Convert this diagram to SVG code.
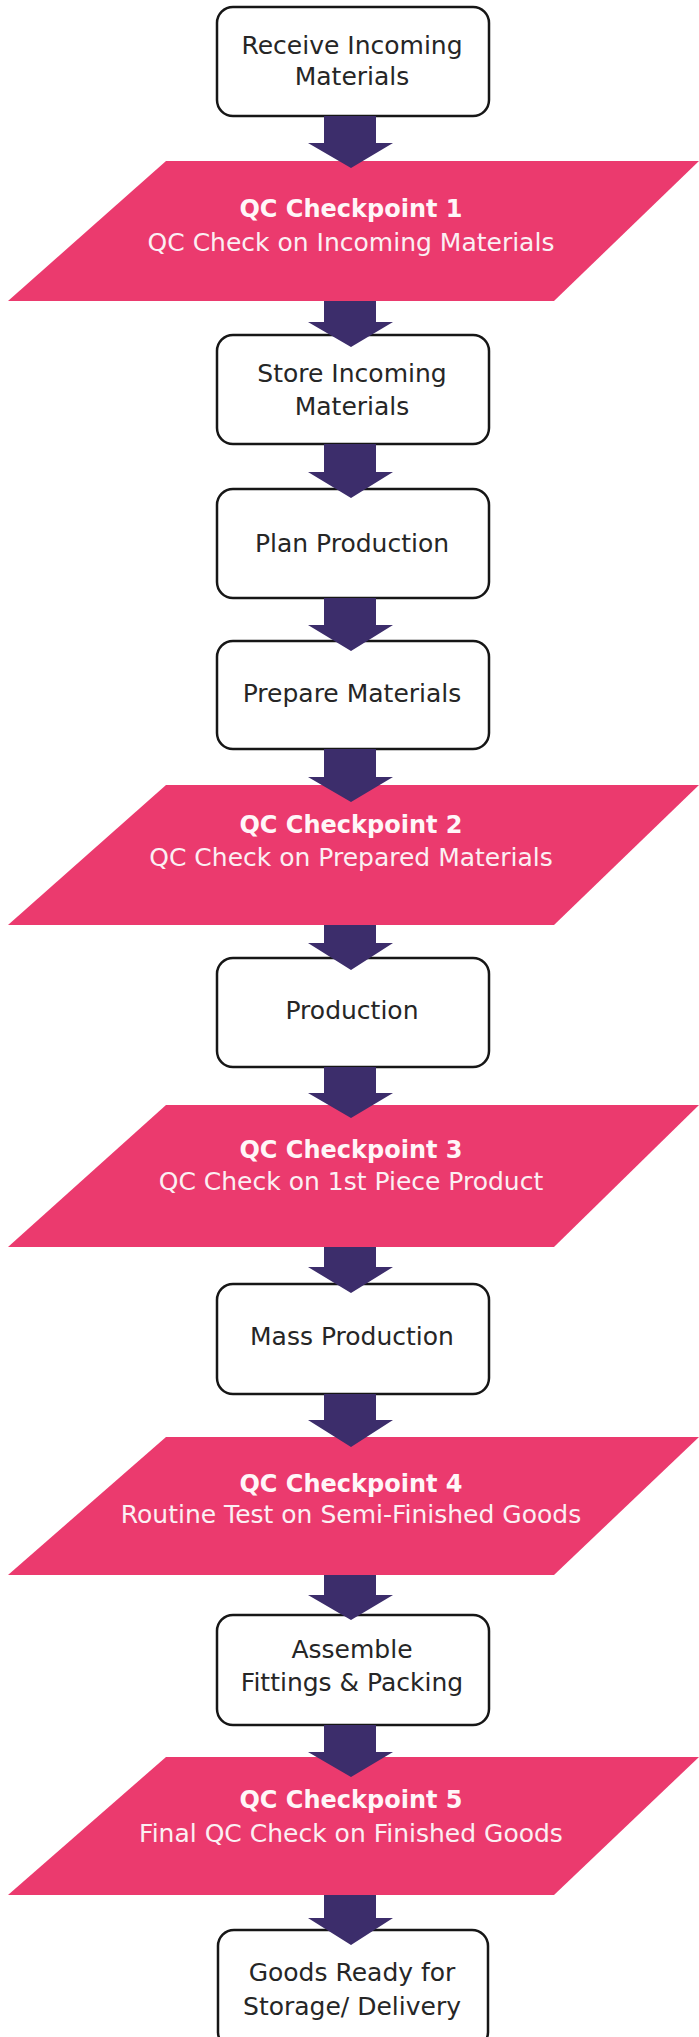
<svg xmlns="http://www.w3.org/2000/svg" width="699" height="2037" viewBox="0 0 699 2037">
<style>
.box{fill:#ffffff;stroke:#161616;stroke-width:2.5}
.qc{fill:#EB3A6E}
.bt{font-family:"DejaVu Sans",sans-serif;font-size:25px;fill:#262626;text-anchor:middle}
.qt{font-family:"DejaVu Sans",sans-serif;font-size:25px;fill:#FBEFF3;text-anchor:middle}
.qh{font-family:"DejaVu Sans",sans-serif;font-size:24px;font-weight:bold;fill:#FFF6F8;text-anchor:middle}
.arr{fill:#3C2D6B}
</style>
<rect width="699" height="2037" fill="#ffffff"/>

<g id="n1"><rect class="box" x="217" y="7" width="272" height="109" rx="16"/>
<text class="bt" x="352" y="54">Receive Incoming</text><text class="bt" x="352" y="85">Materials</text></g>

<g id="qc1"><polygon class="qc" points="166,161 699,161 554,301 8,301"/>
<text class="qh" x="351" y="217">QC Checkpoint 1</text><text class="qt" x="351" y="251">QC Check on Incoming Materials</text></g>

<g id="n2"><rect class="box" x="217" y="335" width="272" height="109" rx="16"/>
<text class="bt" x="352" y="382">Store Incoming</text><text class="bt" x="352" y="415">Materials</text></g>

<g id="n3"><rect class="box" x="217" y="489" width="272" height="109" rx="16"/>
<text class="bt" x="352" y="552">Plan Production</text></g>

<g id="n4"><rect class="box" x="217" y="641" width="272" height="108" rx="16"/>
<text class="bt" x="352" y="702">Prepare Materials</text></g>

<g id="qc2"><polygon class="qc" points="166,785 699,785 554,925 8,925"/>
<text class="qh" x="351" y="833">QC Checkpoint 2</text><text class="qt" x="351" y="866">QC Check on Prepared Materials</text></g>

<g id="n5"><rect class="box" x="217" y="958" width="272" height="109" rx="16"/>
<text class="bt" x="352" y="1019">Production</text></g>

<g id="qc3"><polygon class="qc" points="166,1105 699,1105 554,1247 8,1247"/>
<text class="qh" x="351" y="1158">QC Checkpoint 3</text><text class="qt" x="351" y="1190">QC Check on 1st Piece Product</text></g>

<g id="n6"><rect class="box" x="217" y="1284" width="272" height="110" rx="16"/>
<text class="bt" x="352" y="1345">Mass Production</text></g>

<g id="qc4"><polygon class="qc" points="166,1437 699,1437 554,1575 8,1575"/>
<text class="qh" x="351" y="1492">QC Checkpoint 4</text><text class="qt" x="351" y="1523">Routine Test on Semi-Finished Goods</text></g>

<g id="n7"><rect class="box" x="217" y="1615" width="272" height="110" rx="16"/>
<text class="bt" x="352" y="1658">Assemble</text><text class="bt" x="352" y="1691">Fittings &amp; Packing</text></g>

<g id="qc5"><polygon class="qc" points="166,1757 699,1757 554,1895 8,1895"/>
<text class="qh" x="351" y="1808">QC Checkpoint 5</text><text class="qt" x="351" y="1842">Final QC Check on Finished Goods</text></g>

<g id="n8"><rect class="box" x="218" y="1930" width="270" height="118" rx="16"/>
<text class="bt" x="352" y="1981">Goods Ready for</text><text class="bt" x="352" y="2015">Storage/ Delivery</text></g>

<g id="connectors">
<polygon class="arr" points="324,116 376,116 376,143 393,143 351,168 308,143 324,143"/>
<polygon class="arr" points="324,301 376,301 376,322 393,322 351,347 308,322 324,322"/>
<polygon class="arr" points="324,444 376,444 376,472 393,472 351,498 308,472 324,472"/>
<polygon class="arr" points="324,598 376,598 376,625 393,625 351,651 308,625 324,625"/>
<polygon class="arr" points="324,749 376,749 376,777 393,777 351,802 308,777 324,777"/>
<polygon class="arr" points="324,925 376,925 376,943 393,943 351,970 308,943 324,943"/>
<polygon class="arr" points="324,1067 376,1067 376,1093 393,1093 351,1118 308,1093 324,1093"/>
<polygon class="arr" points="324,1247 376,1247 376,1267 393,1267 351,1293 308,1267 324,1267"/>
<polygon class="arr" points="324,1394 376,1394 376,1420 393,1420 351,1447 308,1420 324,1420"/>
<polygon class="arr" points="324,1575 376,1575 376,1595 393,1595 351,1620 308,1595 324,1595"/>
<polygon class="arr" points="324,1725 376,1725 376,1752 393,1752 351,1777 308,1752 324,1752"/>
<polygon class="arr" points="324,1895 376,1895 376,1918 393,1918 351,1945 308,1918 324,1918"/>
</g>
</svg>
